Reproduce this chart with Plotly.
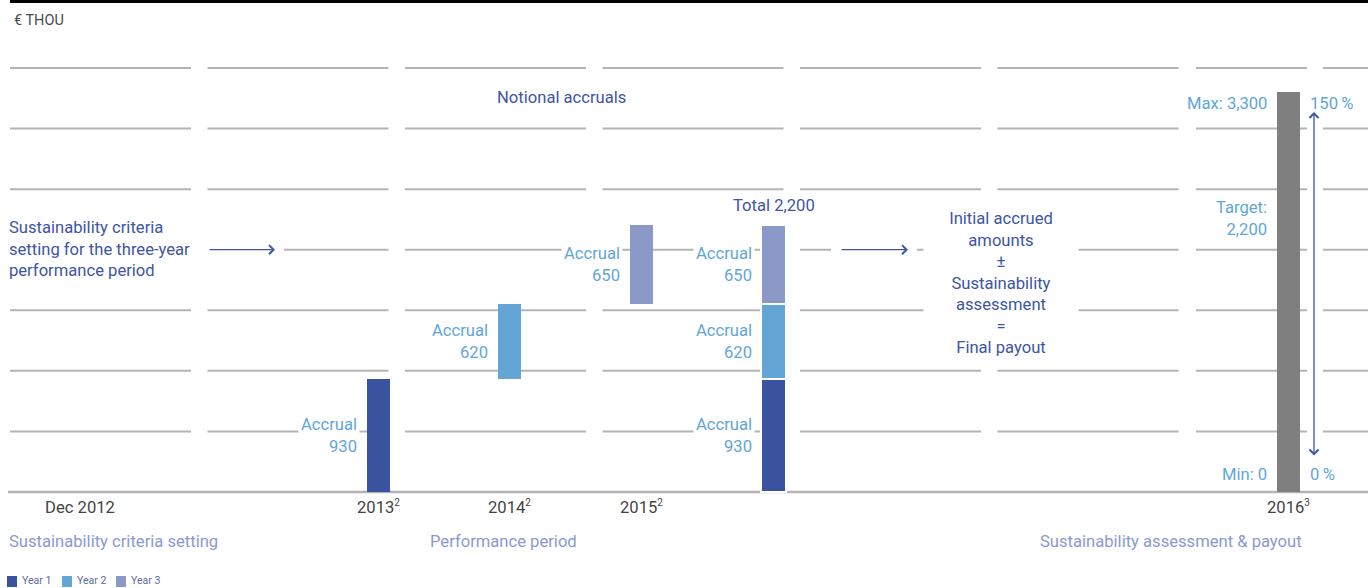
import plotly.graph_objects as go

# ---------------- data ----------------
period_labels = ["Dec 2012", "2013", "2014", "2015", "2016"]
period_notes = ["", "2", "2", "2", "3"]
accrual_years = ["Year 1", "Year 2", "Year 3"]
accrual_values = [930, 620, 650]
payout_min = 0
payout_target = 2200
payout_max = 3300
payout_pct_min = 0
payout_pct_max = 150
grid_values = [500, 1000, 1500, 2000, 2500, 3000, 3500]
phase_labels = ["Sustainability criteria setting", "Performance period",
                "Sustainability assessment & payout"]
unit_label = "€ THOU"

# ---------------- layout constants ----------------
W, H = 1368, 588
BASE_PX = 492
PX_PER_UNIT = 0.12114
Y_MIN = -(H - BASE_PX) / PX_PER_UNIT
Y_MAX = BASE_PX / PX_PER_UNIT

def py(px):
    return 1 - px / H

def dy(px):
    return (BASE_PX - px) / PX_PER_UNIT

X_TICKS = [80, 378.5, 509.5, 641.5, 1288.5]
X_TOTAL = 773.5
BAR_W = 23
LABEL_GAP = 7

FONT = "Roboto"
FS = 16.6
YEAR_COLORS = ["#3b52a1", "#63a5d5", "#8a99c8"]
GRAY = "#7f7f7f"
DARK = "#3d55a4"
LIGHT = "#5fa6dc"
PHASE = "#8a9ad0"
GRID = "#b4b4b4"
TICK = "#444444"

bases = []
acc = 0
for v in accrual_values:
    bases.append(acc)
    acc += v
total_accrued = acc

fig = go.Figure()

# gridlines (segmented columns)
segments = [(10 + 197.5 * k, 10 + 197.5 * k + 181) for k in range(6)] + [(1196, 1307), (1323, 1368)]
for v in grid_values:
    for x0, x1 in segments:
        fig.add_shape(type="line", x0=x0, x1=x1, y0=v, y1=v, xref="x", yref="y",
                      line=dict(color=GRID, width=2), layer="below")
# baseline
fig.add_shape(type="line", x0=8, x1=1368, y0=0, y1=0, line=dict(color=GRID, width=2.5), layer="below")
# white gaps behind horizontal arrows
for x0, x1 in [(198, 284), (831, 917)]:
    fig.add_shape(type="rect", x0=x0, x1=x1, y0=dy(256), y1=dy(244), line=dict(width=0),
                  fillcolor="white", layer="below")
# top black rule
fig.add_shape(type="line", x0=10, x1=1368, y0=py(1.5), y1=py(1.5), xref="x", yref="paper",
              line=dict(color="black", width=3))

# floating yearly accrual bars
for i in range(3):
    fig.add_trace(go.Bar(x=[X_TICKS[i + 1]], y=[accrual_values[i]], base=[bases[i]], width=BAR_W,
                         marker=dict(color=YEAR_COLORS[i], line=dict(width=0)),
                         name=accrual_years[i], showlegend=False, hoverinfo="skip"))
# stacked total bar
for i in range(3):
    fig.add_trace(go.Bar(x=[X_TOTAL], y=[accrual_values[i]], base=[bases[i]], width=BAR_W + 2,
                         marker=dict(color=YEAR_COLORS[i], line=dict(color="white", width=2)),
                         name=accrual_years[i], showlegend=False, hoverinfo="skip"))
# payout range bar
fig.add_trace(go.Bar(x=[X_TICKS[4]], y=[payout_max - payout_min], base=[payout_min], width=BAR_W,
                     marker=dict(color=GRAY, line=dict(width=0)), showlegend=False, hoverinfo="skip"))

ann = []
def A(text, x, y, color=DARK, size=FS, xanchor="center", yanchor="middle", align="center",
      yref="y", bg=None, **kw):
    d = dict(text=text, x=x, y=y, xref="x", yref=yref, showarrow=False, xanchor=xanchor,
             yanchor=yanchor, align=align, font=dict(family=FONT, size=size, color=color),
             borderpad=2)
    if bg:
        d["bgcolor"] = bg
    d.update(kw)
    ann.append(d)

A(unit_label, 11, py(20), color="#4a4a4a", size=14.5, xanchor="left", yref="paper")
A("Notional accruals", 561, py(97), yref="paper")
A("Sustainability criteria<br>setting for the three-year<br>performance period", 6, py(249),
  xanchor="left", align="left", yref="paper", bg="white")

# accrual labels
for i in range(3):
    lbl = "Accrual<br>%d" % accrual_values[i]
    mid = bases[i] + accrual_values[i] / 2
    A(lbl, X_TICKS[i + 1] - BAR_W / 2 - LABEL_GAP, mid, color=LIGHT, xanchor="right", align="right", bg="white")
    A(lbl, X_TOTAL - BAR_W / 2 - LABEL_GAP, mid, color=LIGHT, xanchor="right", align="right", bg="white")

A("Total {:,}".format(total_accrued), X_TOTAL, total_accrued, yanchor="bottom", yshift=7)
A("Initial accrued<br>amounts<br>±<br>Sustainability<br>assessment<br>=<br>Final payout",
  1001, py(282.5), yref="paper", bg="white", width=150)

# payout labels
rx = X_TICKS[4] - BAR_W / 2 - LABEL_GAP
A("Max: {:,}".format(payout_max), rx, payout_max, color=LIGHT, xanchor="right", yanchor="top", yshift=1)
A("{}\u2009%".format(payout_pct_max), 1307, payout_max, color=LIGHT, xanchor="left", yanchor="top", yshift=1)
A("Target:<br>{:,}".format(payout_target), rx, payout_target, color=LIGHT, xanchor="right",
  align="right", yshift=7)
A("Min: {:,}".format(payout_min), rx, payout_min, color=LIGHT, xanchor="right", yanchor="bottom", yshift=5)
A("{}\u2009%".format(payout_pct_min), 1307, payout_min, color=LIGHT, xanchor="left", yanchor="bottom", yshift=5)

# phase labels
A(phase_labels[0], 6, py(541), color=PHASE, xanchor="left", yref="paper")
A(phase_labels[1], 503.5, py(541), color=PHASE, yref="paper")
A(phase_labels[2], 1170.5, py(541), color=PHASE, yref="paper")

# arrows
for xh, xt in [(275, 208), (908, 840)]:
    ann.append(dict(x=xh, y=2000, ax=xt, ay=2000, xref="x", yref="y", axref="x", ayref="y",
                    text="", showarrow=True, arrowhead=4, arrowsize=1.35, arrowwidth=1.3,
                    arrowcolor=DARK, standoff=0, startstandoff=0))
ann.append(dict(x=1314, y=dy(112), ax=1314, ay=dy(457), xref="x", yref="y", axref="x", ayref="y",
                text="", showarrow=True, arrowhead=4, startarrowhead=4, arrowside="end+start",
                arrowsize=1.35, startarrowsize=1.35, arrowwidth=1.3, arrowcolor=DARK,
                standoff=0, startstandoff=0))

# manual legend
lx = [7, 62, 116]
for i in range(3):
    fig.add_shape(type="rect", x0=lx[i], x1=lx[i] + 10, y0=py(587), y1=py(576), xref="x", yref="paper",
                  fillcolor=YEAR_COLORS[i], line=dict(width=0))
    A(accrual_years[i], lx[i] + 14, py(580.5), color="#5b6aa0", size=10.5, xanchor="left",
      yref="paper", borderpad=0)

ticktext = [lbl + ('<sup><span style="font-size:10px">%s</span></sup>' % n if n else "")
            for lbl, n in zip(period_labels, period_notes)]

fig.update_layout(
    width=W, height=H, margin=dict(l=0, r=0, t=0, b=0),
    paper_bgcolor="white", plot_bgcolor="white",
    barmode="overlay", bargap=0, showlegend=False,
    annotations=ann,
    xaxis=dict(range=[0, W], showgrid=False, zeroline=False, showline=False,
               tickvals=X_TICKS, ticktext=ticktext, ticks="",
               tickfont=dict(family=FONT, size=FS, color=TICK), ticklabelstandoff=3,
               anchor="free", position=1 - BASE_PX / H, fixedrange=True),
    yaxis=dict(range=[Y_MIN, Y_MAX], visible=False, showgrid=False, zeroline=False, fixedrange=True),
)

fig.write_html("out.html", config={"displayModeBar": False},
               post_script="document.body.style.margin='0px';")
